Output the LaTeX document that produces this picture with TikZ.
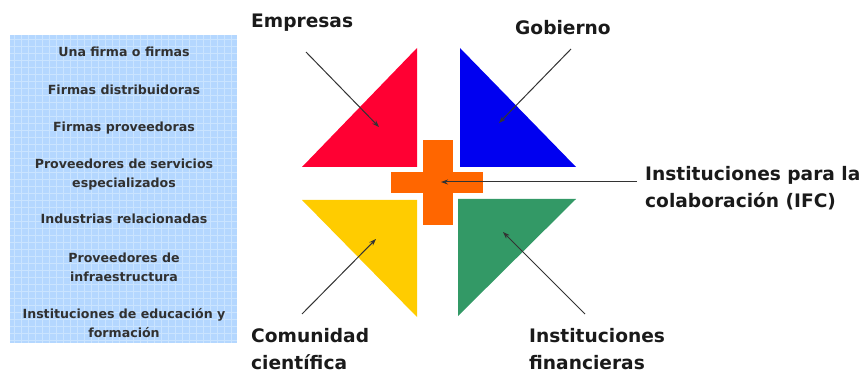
\documentclass[tikz,border=0pt]{standalone}
\usepackage{fontspec}
\setmainfont{DejaVu Sans}
\usetikzlibrary{arrows.meta}
\definecolor{cred}{HTML}{FF0033}
\definecolor{cblue}{HTML}{0000F0}
\definecolor{cyellow}{HTML}{FFCC00}
\definecolor{cgreen}{HTML}{339966}
\definecolor{corange}{HTML}{FF6600}
\definecolor{boxfill}{HTML}{B4D7FF}
\definecolor{boxgrid}{HTML}{CAE4FF}
\definecolor{txt}{HTML}{1A1A1A}
\tikzset{
  item/.style={font=\fontsize{12.6}{19}\selectfont\bfseries, text=txt!90, align=center, inner sep=0pt},
  lbl/.style={font=\fontsize{18.6}{27}\selectfont\bfseries, text=txt, align=left, inner sep=0pt},
  pointer/.style={draw=black!80, line width=1pt, -{Stealth[length=7pt,width=5pt]}},
}
\begin{document}
\begin{tikzpicture}[x=1pt,y=-1pt]
\useasboundingbox (0,0) rectangle (867,374);
% box
\fill[boxfill] (10,35) rectangle (237,343);
\foreach \gx in {14,21,...,235} \draw[boxgrid, line width=0.7pt] (\gx,35) -- (\gx,343);
\foreach \gy in {39,46,...,341} \draw[boxgrid, line width=0.7pt] (10,\gy) -- (237,\gy);
\node[item] (i1) at (124,52) {Una firma o firmas};
\node[item] (i2) at (124,90) {Firmas distribuidoras};
\node[item] (i3) at (124,128) {Firmas proveedoras};
\node[item] (i4) at (124,175) {Proveedores de servicios\\especializados};
\node[item] (i5) at (124,219) {Industrias relacionadas};
\node[item] (i6) at (124,267) {Proveedores de\\infraestructura};
\node[item] (i7) at (124,323) {Instituciones de educación y\\formación};
% triangles
\fill[cred] (302,167) -- (417,48) -- (417,167) -- cycle;
\fill[cblue] (460,48) -- (460,167) -- (576,167) -- cycle;
\fill[cyellow] (302,200) -- (417,200) -- (417,317) -- cycle;
\fill[cgreen] (458,199) -- (576,199) -- (458,316) -- cycle;
% cross
\fill[corange] (423,140) rectangle (453,225);
\fill[corange] (391,172) rectangle (483,193);
% targets
\coordinate (tE) at (379,127);
\coordinate (tG) at (499,123);
\coordinate (tC) at (376,239);
\coordinate (tF) at (503,232);
\coordinate (tI) at (441,182);
\coordinate (sE) at (306,52);
\coordinate (sG) at (571,49);
\coordinate (sC) at (302,314);
\coordinate (sF) at (585,314);
\coordinate (sI) at (637,182);
% labels
\node[lbl, anchor=west] (lE) at (251,23) {Empresas};
\node[lbl, anchor=west] (lG) at (515,28) {Gobierno};
\node[lbl, anchor=west] (lC) at (251,349) {Comunidad\\científica};
\node[lbl, anchor=west] (lF) at (529,349) {Instituciones\\financieras};
\node[lbl, anchor=west] (lI) at (645,188) {Instituciones para la\\colaboración (IFC)};
% pointers
\draw[pointer] (sE) -- (tE);
\draw[pointer] (sG) -- (tG);
\draw[pointer] (sC) -- (tC);
\draw[pointer] (sF) -- (tF);
\draw[pointer] (sI) -- (tI);
\end{tikzpicture}
\end{document}
